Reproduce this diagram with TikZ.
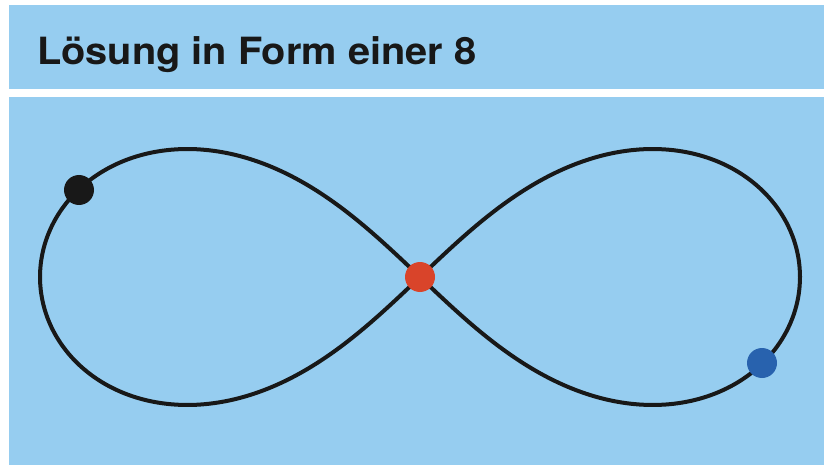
\documentclass[tikz,border=0pt]{standalone}
\usepackage{fontspec}
\setmainfont{TeX Gyre Heros}
\definecolor{panelblue}{RGB}{150,205,240}
\definecolor{dotred}{RGB}{217,68,42}
\definecolor{dotblue}{RGB}{40,98,174}
\definecolor{dotblack}{RGB}{24,24,24}
\tikzset{
	panel/.style={fill=panelblue, draw=none},
	dot/.style={circle, inner sep=0pt, minimum size=30pt, draw=none},
	curve/.style={line width=4pt, dotblack}
}

\begin{document}
\begin{tikzpicture}[x=1pt, y=-1pt]
		\useasboundingbox (0, 0) rectangle (824, 465);
		
		% title band and drawing panel
		\fill[panel] (9, 5) rectangle (824, 89);
		\fill[panel] (9, 97) rectangle (824, 465);
		\node[anchor=base west, inner sep=0pt, text=dotblack, xscale=1.06, font=\bfseries\fontsize{37.5}{42}\selectfont] (title) at (37, 65) {Lösung in Form einer 8};
		
		% the eight (lemniscate)
		\draw[curve, domain=0:360, samples=240, smooth, variable=\t]
			plot ({420 + 380*cos(\t)/(1+sin(\t)^2)}, {277 + 362*sin(\t)*cos(\t)/(1+sin(\t)^2)}) -- cycle;
		
		\node[dot, fill=dotblack] (start) at (79, 190) {};
		\node[dot, fill=dotred] (cross) at (420, 277) {};
		\node[dot, fill=dotblue] (goal) at (762, 363) {};
		
	\end{tikzpicture}
\end{document}
